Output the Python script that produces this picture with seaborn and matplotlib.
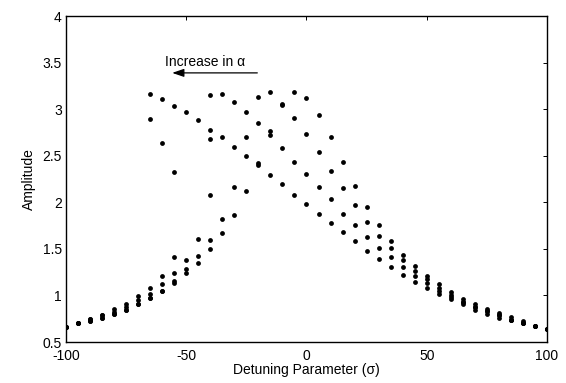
import matplotlib
matplotlib.use("Agg")
import matplotlib.pyplot as plt
import seaborn as sns
import pandas as pd
from matplotlib.patches import FancyArrowPatch

# ---- data ----
sigma = [-100, -95, -90, -85, -80, -75, -70, -65, -60, -55,
         -50, -45, -40, -35, -30, -25, -20, -15, -10, -5,
         0, 5, 10, 15, 20, 25, 30, 35, 40, 45,
         50, 55, 60, 65, 70, 75, 80, 85, 90, 95, 100]

amp_c1 = [0.66, 0.70, 0.724, 0.759, 0.802, 0.845, 0.909, 0.973, 1.052, 1.13,
          1.238, 1.352, 1.495, 1.666, 1.866, 2.123, 2.423, 2.769, 3.06, 3.183,
          3.125, 2.937, 2.697, 2.437, 2.18, 1.952, 1.752, 1.58, 1.438, 1.316,
          1.21, 1.123, 1.037, 0.959, 0.909, 0.852, 0.81, 0.767, 0.724, 0.673, 0.645]
amp_c2 = [0.66, 0.70, 0.724, 0.759, 0.802, 0.845, 0.909, 0.973, 1.052, 1.152,
          1.28, 1.423, 1.594, 1.823, 2.166, 2.697, 3.136, 3.183, 3.05, 2.908,
          2.737, 2.536, 2.34, 2.15, 1.966, 1.794, 1.637, 1.508, 1.38, 1.267,
          1.173, 1.08, 1.009, 0.93, 0.881, 0.83, 0.788, 0.738, 0.702, 0.673, 0.645]
amp_c3 = [0.66, 0.702, 0.752, 0.795, 0.823, 0.881, 0.952, 1.016, 1.123, 1.238,
          1.38, 1.609, 3.154, 3.165, 3.082, 2.965, 2.854, 2.726, 2.579, 2.437,
          2.308, 2.166, 2.04, 1.88, 1.752, 1.623, 1.508, 1.409, 1.31, 1.21,
          1.138, 1.052, 0.98, 0.93, 0.881, 0.83, 0.788, 0.738, 0.702, 0.673, 0.645]
amp_c4 = [0.66, 0.702, 0.752, 0.795, 0.852, 0.909, 0.995, 3.165, 3.111, 3.036,
          2.965, 2.879, 2.779, 2.697, 2.597, 2.494, 2.397, 2.298, 2.198, 2.08,
          1.98, 1.88, 1.78, 1.68, 1.58, 1.48, 1.395, 1.31, 1.224, 1.145,
          1.08, 1.016, 0.959, 0.909, 0.845, 0.802, 0.759, 0.738, 0.702, 0.673, 0.645]

# additional branch points
c3_other_sigma = [-40, -40]
c3_other_amp = [2.68, 2.08]
c4_other_sigma = [-65, -60, -55, -65, -60, -55]
c4_other_amp = [2.897, 2.637, 2.322, 1.08, 1.21, 1.409]

x_ticks = [-100, -50, 0, 50, 100]
x_ticklabels = ["-100", "-50", "0", "50", "100"]
y_ticks = [0.5, 1, 1.5, 2, 2.5, 3, 3.5, 4]
y_ticklabels = ["0.5", "1", "1.5", "2", "2.5", "3", "3.5", "4"]

# ---- build a long table ----
frames = []
for name, a in [("c1", amp_c1), ("c2", amp_c2), ("c3", amp_c3), ("c4", amp_c4)]:
    frames.append(pd.DataFrame({"sigma": sigma, "amp": a, "curve": name}))
frames.append(pd.DataFrame({"sigma": c3_other_sigma, "amp": c3_other_amp, "curve": "c3"}))
frames.append(pd.DataFrame({"sigma": c4_other_sigma, "amp": c4_other_amp, "curve": "c4"}))
df = pd.concat(frames, ignore_index=True)

sns.set_theme(style="white")
plt.rcParams["font.family"] = ["Liberation Sans", "DejaVu Sans"]

fig = plt.figure(figsize=(5.66, 3.83), dpi=100)
ax = fig.add_axes([0.1166, 0.107, 0.9664 - 0.1166, 0.958 - 0.107])

sns.scatterplot(data=df, x="sigma", y="amp", color="black", s=12,
                linewidth=0, marker="o", ax=ax, legend=False)

ax.set_xlim(-100, 100)
ax.set_ylim(0.5, 4)
ax.set_xticks(x_ticks)
ax.set_xticklabels(x_ticklabels)
ax.set_yticks(y_ticks)
ax.set_yticklabels(y_ticklabels)
ax.tick_params(direction="in", length=3, width=0.7, top=True, right=True,
               labelsize=10, colors="black")
ax.tick_params(axis="x", pad=5)
ax.tick_params(axis="y", pad=3)
for s in ax.spines.values():
    s.set_visible(True)
    s.set_color("black")
    s.set_linewidth(1.0)

ax.set_xlabel("Detuning Parameter (σ)", fontsize=10, labelpad=0, color="black")
ax.set_ylabel("Amplitude", fontsize=10, labelpad=5, color="black")

ax.text(-58.8, 3.51, "Increase in α", fontsize=10, va="center", ha="left", color="black")
arrow = FancyArrowPatch((-19.3, 3.39), (-57.0, 3.39),
                        arrowstyle="-|>,head_length=7,head_width=2.4",
                        color="black", linewidth=0.9, mutation_scale=1)
ax.add_patch(arrow)

fig.savefig("out.png", dpi=100, facecolor="white")
